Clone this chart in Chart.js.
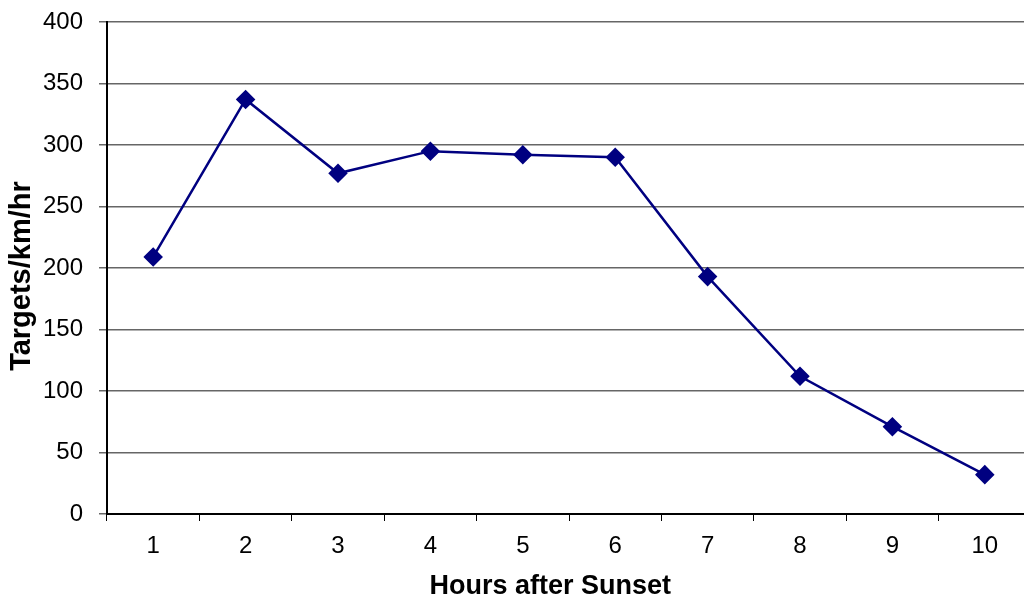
<!DOCTYPE html>
<html>
<head>
<meta charset="utf-8">
<script src="https://cdn.jsdelivr.net/npm/chart.js@4/dist/chart.umd.min.js"></script>
<style>
  html, body { margin: 0; padding: 0; background: #fff; overflow: hidden; }
  #wrap { width: 1024px; height: 598px; }
</style>
</head>
<body>
<div id="wrap"><canvas id="chartTargets"></canvas></div>
<script>
const horas = ['1', '2', '3', '4', '5', '6', '7', '8', '9', '10'];
const targets = [209, 337, 277, 295, 292, 290, 193, 112, 71, 32];
const yTicks = [0, 50, 100, 150, 200, 250, 300, 350, 400];

const fonte = "'Liberation Sans', Arial, sans-serif";

// o grafico original continua um pouco alem da borda direita
const estenderDireita = {
    id: 'estenderDireita',
    afterLayout(chart) {
        const x = chart.scales.x;
        const extra = 1031 - x.right;
        if (extra <= 0) return;
        x.right += extra;
        x.width += extra;
        chart.chartArea.right += extra;
        chart.chartArea.width += extra;
        x.configure();
    }
};

new Chart(document.getElementById('chartTargets'), {
    type: 'line',
    data: {
        labels: horas,
        datasets: [{
            label: 'Targets/km/hr',
            data: targets,
            borderColor: '#000080',
            backgroundColor: '#000080',
            borderWidth: 2.5,
            pointStyle: 'rectRot',
            pointRadius: 8,
            pointHoverRadius: 8,
            tension: 0,
            clip: false
        }]
    },
    options: {
        responsive: true,
        maintainAspectRatio: false,
        animation: false,
        layout: { padding: { top: 22, right: 0, bottom: 0, left: 0 } },
        scales: {
            x: {
                offset: true,
                grid: {
                    offset: true,
                    drawOnChartArea: false,
                    tickLength: 7,
                    color: '#000'
                },
                border: { color: '#000', width: 2 },
                ticks: { color: '#000', font: { family: fonte, size: 24 }, padding: 11, maxRotation: 0 },
                title: {
                    display: true,
                    text: 'Hours after Sunset     ',
                    color: '#000',
                    font: { family: fonte, size: 27, weight: 'bold', lineHeight: 1 },
                    padding: { top: 0, bottom: -2 }
                },
                afterFit: s => { s.height = 84; s.paddingLeft = 0; s.paddingRight = 0; }
            },
            y: {
                min: 0,
                max: 400,
                afterBuildTicks: s => { s.ticks = yTicks.map(v => ({ value: v })); },
                grid: { color: '#666', lineWidth: 1.5, tickLength: 8 },
                border: { color: '#000', width: 2 },
                ticks: { color: '#000', font: { family: fonte, size: 24 }, padding: 16 },
                title: {
                    display: true,
                    text: 'Targets/km/hr  ',
                    color: '#000',
                    font: { family: fonte, size: 29, weight: 'bold', lineHeight: 1 },
                    padding: { top: 7, bottom: 0 }
                },
                afterFit: s => { s.width = 107; s.paddingTop = 0; s.paddingBottom = 0; }
            }
        },
        plugins: {
            legend: { display: false },
            tooltip: { enabled: false }
        }
    },
    plugins: [estenderDireita]
});
</script>
</body>
</html>
